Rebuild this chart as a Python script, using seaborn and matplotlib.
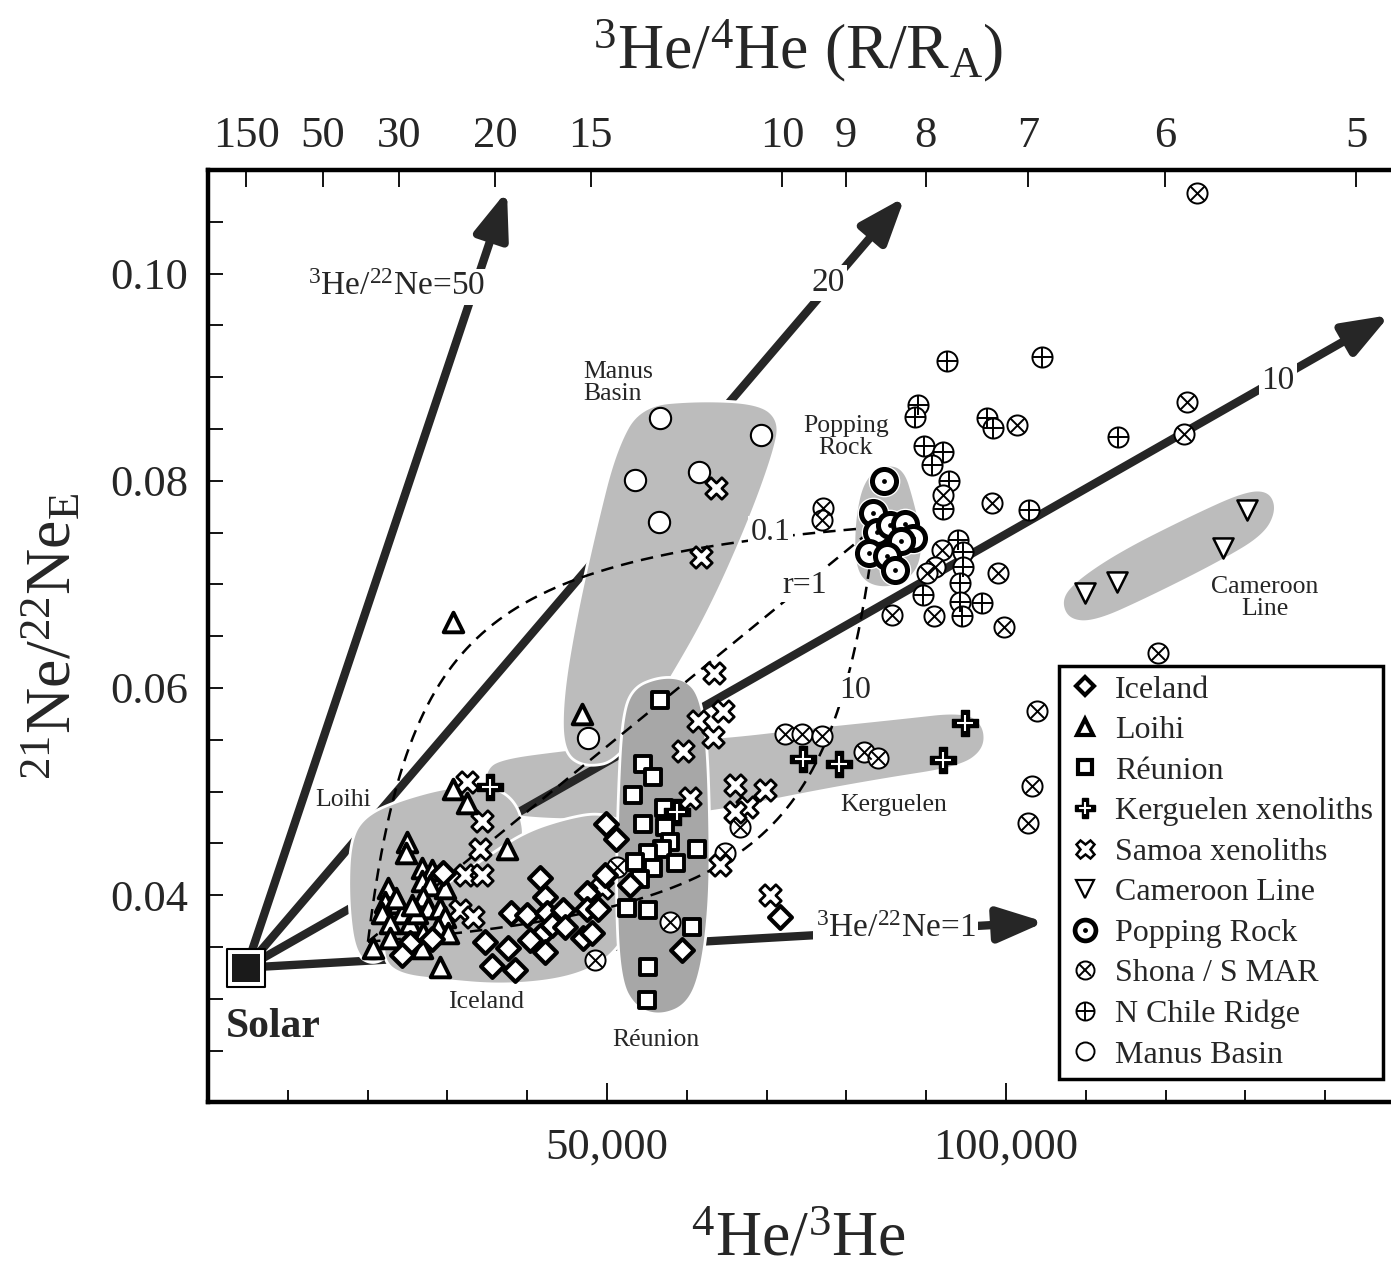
import numpy as np
import matplotlib
matplotlib.use("Agg")
import matplotlib.pyplot as plt
import seaborn as sns
from matplotlib.lines import Line2D
from matplotlib.legend_handler import HandlerTuple
from matplotlib.ticker import FixedLocator

sns.set_theme(style="ticks")
plt.rcParams["font.family"] = ["Liberation Serif", "DejaVu Serif"]
plt.rcParams["mathtext.fontset"] = "custom"
plt.rcParams["mathtext.rm"] = "Liberation Serif"
plt.rcParams["mathtext.it"] = "Liberation Serif:italic"
plt.rcParams["mathtext.bf"] = "Liberation Serif:bold"

# ---------------- data (4He/3He, 21Ne/22Ne_E) ----------------
iceland_x = [29400, 49900, 51100, 41600, 42200, 38000, 40000, 42500, 44500, 43100,
             41600, 44700, 40300, 42200, 47500, 47500, 49700, 48900, 47000, 48100,
             34700, 37600, 25300, 24300, 28100, 35600, 38500, 52900, 59400, 71700]
iceland_y = [0.0421, 0.0469, 0.0454, 0.0417, 0.0398, 0.0383, 0.0381, 0.0383, 0.0386, 0.0371,
             0.0361, 0.0369, 0.0357, 0.0345, 0.0402, 0.0387, 0.0419, 0.0387, 0.0359, 0.0363,
             0.0355, 0.0349, 0.0354, 0.0342, 0.0358, 0.0332, 0.0328, 0.0410, 0.0347, 0.0379]

loihi_x = [30700, 46900, 30700, 32500, 37500, 24900, 24800, 26800, 28100, 22600,
           22200, 23800, 21800, 24300, 22800, 25300, 22800, 20700, 26800, 27800,
           29700, 26900, 27600, 29100, 26200, 29700, 28800, 26900, 30100, 26800,
           29100, 23600, 25600]
loihi_y = [0.0664, 0.0575, 0.0502, 0.0489, 0.0445, 0.0451, 0.0441, 0.0426, 0.0424, 0.0407,
           0.0393, 0.0392, 0.0383, 0.0383, 0.0373, 0.0373, 0.0359, 0.0349, 0.0414, 0.0410,
           0.0407, 0.0398, 0.0388, 0.0388, 0.0383, 0.0379, 0.0369, 0.0363, 0.0363, 0.0349,
           0.0331, 0.0397, 0.0390]

reunion_x = [56600, 54500, 55800, 53300, 54500, 57100, 57300, 57900, 56900, 61300,
             55100, 53500, 55800, 58600, 54100, 52500, 55100, 60600, 55100, 55000]
reunion_y = [0.0588, 0.0527, 0.0514, 0.0497, 0.0469, 0.0484, 0.0466, 0.0451, 0.0445, 0.0445,
             0.0441, 0.0432, 0.0426, 0.0431, 0.0416, 0.0388, 0.0386, 0.0369, 0.0331, 0.0299]

kerg_x = [35300, 74600, 79100, 92100, 94900, 58800]
kerg_y = [0.0504, 0.0531, 0.0527, 0.0530, 0.0566, 0.0480]

samoa_x = [63700, 61800, 63400, 64500, 61400, 63300, 59500, 60400, 66000, 69800, 67500,
           66000, 64200, 70400, 32500, 34300, 34100, 32200, 34300, 31600, 33200, 49400]
samoa_y = [0.0793, 0.0726, 0.0614, 0.0578, 0.0568, 0.0553, 0.0539, 0.0494, 0.0506, 0.0501, 0.0485,
           0.0480, 0.0429, 0.0400, 0.0509, 0.0472, 0.0445, 0.0419, 0.0419, 0.0386, 0.0379, 0.0407]

cam_x = [109900, 113900, 127200, 130200]
cam_y = [0.0692, 0.0702, 0.0735, 0.0772]

pop_x = [84700, 83300, 83800, 85500, 87300, 88300, 86800, 82800, 85100, 86100]
pop_y = [0.0800, 0.0769, 0.0751, 0.0757, 0.0758, 0.0745, 0.0742, 0.0730, 0.0727, 0.0714]

shona_x = [124000, 122700, 122300, 101400, 77100, 76900, 92100, 98200, 92000, 91100,
           90100, 99000, 85700, 91000, 99700, 119000, 103900, 103200, 102700, 72300,
           74400, 76900, 82200, 84000, 66700, 64800, 51200, 57900, 48500]
shona_y = [0.1078, 0.0876, 0.0845, 0.0854, 0.0774, 0.0762, 0.0786, 0.0779, 0.0733, 0.0717,
           0.0711, 0.0711, 0.0670, 0.0669, 0.0659, 0.0634, 0.0578, 0.0505, 0.0470, 0.0556,
           0.0556, 0.0554, 0.0538, 0.0532, 0.0466, 0.0441, 0.0427, 0.0374, 0.0337]

chile_x = [92600, 104500, 89000, 88600, 97600, 98400, 89700, 92100, 90700, 92800, 92100,
           102900, 114000, 94000, 94600, 94600, 94200, 94200, 97000, 89600, 94500]
chile_y = [0.0916, 0.0919, 0.0873, 0.0862, 0.0861, 0.0851, 0.0834, 0.0828, 0.0815, 0.0800, 0.0773,
           0.0772, 0.0842, 0.0743, 0.0731, 0.0717, 0.0701, 0.0683, 0.0682, 0.0690, 0.0669]

manus_x = [56600, 69300, 53500, 61500, 56500, 47600]
manus_y = [0.0861, 0.0844, 0.0801, 0.0808, 0.0760, 0.0552]

solar_x, solar_y = 4800, 0.0330

# 3He/22Ne reference arrows from Solar
arrow_names = [r"$^{3}$He/$^{22}$Ne=50", "20", "10", r"$^{3}$He/$^{22}$Ne=1"]
arrow_tip_x = [37465, 87334, 148105, 104876]
arrow_tip_y = [0.1080, 0.1074, 0.0960, 0.0374]
arrow_lab_x = [23682, 77686, 134071, 86206]
arrow_lab_y = [0.0987, 0.0991, 0.0897, 0.0368]

# mixing hyperbolae between end-members, r = (3He/22Ne)_A / (3He/22Ne)_B
mix_r = [0.1, 1, 10]
mix_names = ["0.1", "r=1", "10"]
mix_lab_x = [70544, 74804, 81069]
mix_lab_y = [0.0750, 0.0699, 0.0598]
mixA_x, mixA_y = 83575, 0.0755
mixB_x, mixB_y = 20048, 0.0355

# region outlines
manus_poly_x = [54130, 61648, 69166, 71672, 71045, 67913, 62901, 57889, 51624, 47238, 44482, 44356, 45985, 48491, 50997]
manus_poly_y = [0.0873, 0.0878, 0.0875, 0.0858, 0.0829, 0.0762, 0.0675, 0.0607, 0.0530, 0.0523, 0.0538, 0.0588, 0.0665, 0.0752, 0.0829]
kerg_poly_x = [34708, 36588, 44106, 54130, 64154, 75431, 86708, 94852, 97358, 97358, 94226, 84202, 74178, 63527, 54130, 44106, 36588, 34708]
kerg_poly_y = [0.0521, 0.0532, 0.0540, 0.0548, 0.0552, 0.0562, 0.0571, 0.0578, 0.0564, 0.0540, 0.0523, 0.0511, 0.0497, 0.0480, 0.0474, 0.0472, 0.0477, 0.0497]
loihi_poly_x = [17793, 19672, 24058, 30323, 35335, 38467, 39720, 39094, 32829, 26564, 23431, 20925, 18419, 17542]
loihi_poly_y = [0.0453, 0.0477, 0.0492, 0.0505, 0.0506, 0.0492, 0.0463, 0.0443, 0.0414, 0.0381, 0.0347, 0.0332, 0.0342, 0.0395]
iceland_poly_x = [22178, 26564, 30949, 35335, 39720, 44732, 49118, 52250, 54130, 54130, 52250, 49118, 44106, 36588, 29070, 24058, 21927]
iceland_poly_y = [0.0366, 0.0395, 0.0416, 0.0439, 0.0461, 0.0474, 0.0480, 0.0470, 0.0443, 0.0395, 0.0357, 0.0332, 0.0318, 0.0313, 0.0318, 0.0323, 0.0337]
reunion_poly_x = [56636, 59768, 61648, 62525, 62901, 62901, 61898, 60144, 56636, 53503, 51624, 51122, 51373, 51874, 53127]
reunion_poly_y = [0.0611, 0.0609, 0.0593, 0.0550, 0.0472, 0.0395, 0.0328, 0.0294, 0.0283, 0.0291, 0.0318, 0.0395, 0.0492, 0.0569, 0.0600]
pop_poly_x = [84828, 87334, 88587, 89714, 89088, 86081, 82699, 80944, 80944, 82072]
pop_poly_y = [0.0817, 0.0812, 0.0781, 0.0743, 0.0712, 0.0696, 0.0698, 0.0716, 0.0762, 0.0802]
cam_poly_x = [106756, 108635, 114274, 123045, 129936, 133069, 134071, 132442, 126804, 118033, 111141, 107758]
cam_poly_y = [0.0685, 0.0704, 0.0733, 0.0767, 0.0791, 0.0791, 0.0772, 0.0747, 0.0721, 0.0687, 0.0663, 0.0665]

# axis ticks
bottom_major = [50000, 100000]
bottom_major_labels = ["50,000", "100,000"]
bottom_minor = list(range(10000, 150000, 10000))
left_major = [0.04, 0.06, 0.08, 0.10]
left_major_labels = ["0.04", "0.06", "0.08", "0.10"]
top_RRa = [150, 50, 30, 20, 15, 10, 9, 8, 7, 6, 5]
Ra = 1.39e-6

# ---------------- figure ----------------
fig = plt.figure(figsize=(13.91, 12.78), dpi=100)
ax = fig.add_axes([208 / 1391, 1 - 1102.3 / 1278, 1181 / 1391, (1102.3 - 170) / 1278])
ax.set_xlim(0, 148000)
ax.set_ylim(0.02, 0.11)

LIGHT = "#bcbcbc"
DARK = "#a7a7a7"
ARROW = "#262626"


def smooth_closed(xs, ys, n=4):
    pts = np.column_stack([xs, ys]).astype(float)
    for _ in range(n):
        q = np.roll(pts, -1, axis=0)
        a = 0.75 * pts + 0.25 * q
        b = 0.25 * pts + 0.75 * q
        new = np.empty((2 * len(pts), 2))
        new[0::2] = a
        new[1::2] = b
        pts = new
    return pts[:, 0], pts[:, 1]


def blob(xs, ys, color, z):
    sx, sy = smooth_closed(xs, ys)
    ax.fill(sx, sy, facecolor=color, edgecolor="white", linewidth=2.0, zorder=z)


blob(kerg_poly_x, kerg_poly_y, LIGHT, 1.0)

for tx, ty in zip(arrow_tip_x, arrow_tip_y):
    ax.annotate("", xy=(tx, ty), xytext=(solar_x, solar_y),
                arrowprops=dict(arrowstyle="-|>,head_length=0.8,head_width=0.3",
                                color=ARROW, lw=6, shrinkA=0, shrinkB=0,
                                mutation_scale=35),
                zorder=1.5, annotation_clip=False)

blob(manus_poly_x, manus_poly_y, LIGHT, 2.0)
blob(loihi_poly_x, loihi_poly_y, LIGHT, 2.1)
blob(iceland_poly_x, iceland_poly_y, LIGHT, 2.2)
blob(reunion_poly_x, reunion_poly_y, DARK, 2.3)
blob(pop_poly_x, pop_poly_y, LIGHT, 2.4)
blob(cam_poly_x, cam_poly_y, LIGHT, 2.4)

# mixing curves
w = np.linspace(0, 1, 400)
for r in mix_r:
    w3 = r * w / (r * w + 1 - w)
    xs = mixB_x + w3 * (mixA_x - mixB_x)
    ys = mixB_y + w * (mixA_y - mixB_y)
    ax.plot(xs, ys, ls=(0, (5, 3.2)), color="black", lw=1.8, zorder=3)

# ---------------- points ----------------
Z = 5
sns.scatterplot(x=manus_x, y=manus_y, marker="o", s=235, color="white",
                edgecolor="black", linewidth=1.5, zorder=Z, ax=ax)
sns.scatterplot(x=chile_x, y=chile_y, marker="o", s=210, color="white",
                edgecolor="black", linewidth=1.4, zorder=Z, ax=ax)
sns.scatterplot(x=chile_x, y=chile_y, marker="+", s=210, color="black",
                linewidth=1.4, zorder=Z, ax=ax)
sns.scatterplot(x=shona_x, y=shona_y, marker="o", s=210, color="white",
                edgecolor="black", linewidth=1.4, zorder=Z, ax=ax)
sns.scatterplot(x=shona_x, y=shona_y, marker="x", s=105, color="black",
                linewidth=1.4, zorder=Z, ax=ax)
sns.scatterplot(x=cam_x, y=cam_y, marker="v", s=210, color="white",
                edgecolor="black", linewidth=1.8, zorder=Z, ax=ax)
sns.scatterplot(x=samoa_x, y=samoa_y, marker="X", s=240, color="white",
                edgecolor="black", linewidth=2.0, zorder=Z, ax=ax)
sns.scatterplot(x=reunion_x, y=reunion_y, marker="s", s=120, color="white",
                edgecolor="black", linewidth=2.8, zorder=Z, ax=ax)
sns.scatterplot(x=loihi_x, y=loihi_y, marker="^", s=200, color="white",
                edgecolor="black", linewidth=2.8, zorder=Z, ax=ax)
sns.scatterplot(x=iceland_x, y=iceland_y, marker="D", s=135, color="white",
                edgecolor="black", linewidth=3.0, zorder=Z, ax=ax)
sns.scatterplot(x=kerg_x, y=kerg_y, marker="P", s=340, color="black",
                edgecolor="black", linewidth=1.0, zorder=Z + 0.1, ax=ax)
sns.scatterplot(x=kerg_x, y=kerg_y, marker="+", s=120, color="white",
                linewidth=1.5, zorder=Z + 0.2, ax=ax)
sns.scatterplot(x=pop_x, y=pop_y, marker="o", s=520, color="white",
                edgecolor="white", linewidth=0, zorder=Z, ax=ax)
sns.scatterplot(x=pop_x, y=pop_y, marker="o", s=300, color="white",
                edgecolor="black", linewidth=3.6, zorder=Z + 0.1, ax=ax)
sns.scatterplot(x=pop_x, y=pop_y, marker="o", s=12, color="black",
                edgecolor="black", linewidth=0, zorder=Z + 0.2, ax=ax)

# Solar
sns.scatterplot(x=[solar_x], y=[solar_y], marker="s", s=28 ** 2, color="white",
                edgecolor="black", linewidth=1.5, zorder=7, ax=ax)
sns.scatterplot(x=[solar_x], y=[solar_y], marker="s", s=20 ** 2, color="#1a1a1a",
                edgecolor="#1a1a1a", linewidth=0, zorder=7.1, ax=ax)
ax.text(8145, 0.0273, "Solar", fontsize=30, fontweight="bold", ha="center",
        va="center", zorder=8)

# arrow labels and curve labels
wb = dict(boxstyle="square,pad=0.08", fc="white", ec="none")
for name, lx, ly in zip(arrow_names, arrow_lab_x, arrow_lab_y):
    ax.text(lx, ly, name, fontsize=24, ha="center", va="center", bbox=wb, zorder=6)
for name, lx, ly in zip(mix_names, mix_lab_x, mix_lab_y):
    ax.text(lx, ly, name, fontsize=23, ha="center", va="center", bbox=wb, zorder=4)

# region labels
reg = dict(fontsize=18.5, zorder=6, va="center")
ax.text(46988, 0.0894, "Manus\nBasin", ha="left", linespacing=1.0, **reg)
ax.text(79941, 0.0842, "Popping\nRock", ha="center", multialignment="center", linespacing=1.0, **reg)
ax.text(132442, 0.0687, "Cameroon\nLine", ha="center", multialignment="center", linespacing=1.0, **reg)
ax.text(85956, 0.0487, "Kerguelen", ha="center", **reg)
ax.text(56134, 0.0260, "Réunion", ha="center", **reg)
ax.text(34833, 0.0297, "Iceland", ha="center", **reg)
ax.text(16916, 0.0492, "Loihi", ha="center", **reg)

# ---------------- axes styling ----------------
for side in ["top", "left", "bottom"]:
    ax.spines[side].set_linewidth(3.2)
    ax.spines[side].set_color("black")
ax.spines["right"].set_visible(False)

ax.xaxis.set_major_locator(FixedLocator(bottom_major))
ax.set_xticklabels(bottom_major_labels)
ax.xaxis.set_minor_locator(FixedLocator(bottom_minor))
ax.yaxis.set_major_locator(FixedLocator(left_major))
ax.set_yticklabels(left_major_labels)
ax.yaxis.set_minor_locator(FixedLocator(list(np.arange(0.025, 0.1051, 0.005))))
ax.tick_params(axis="x", which="major", direction="in", length=14, width=1.3,
               labelsize=32, pad=18, top=False, color="black")
ax.tick_params(axis="x", which="minor", direction="in", length=9, width=1.3,
               top=False, color="black")
ax.tick_params(axis="y", which="both", direction="in", length=11, width=1.3,
               labelsize=32, pad=14, right=False, color="black")

ax2 = ax.twiny()
ax2.set_xlim(ax.get_xlim())
top_pos = 1.0 / (np.array(top_RRa, dtype=float) * Ra)
ax2.set_xticks(top_pos)
ax2.set_xticklabels([str(v) for v in top_RRa])
ax2.xaxis.set_minor_locator(FixedLocator([]))
ax2.tick_params(axis="x", direction="in", length=12, width=1.3, labelsize=32, pad=10,
                color="black")
for s in ax2.spines.values():
    s.set_visible(False)

ax.set_xlabel(r"$^{4}$He/$^{3}$He", fontsize=46, labelpad=32)
ax2.set_xlabel(r"$^{3}$He/$^{4}$He (R/R$_{\mathrm{A}}$)", fontsize=46, labelpad=34)
ax.set_ylabel(r"$^{21}$Ne/$^{22}$Ne$_{\mathrm{E}}$", fontsize=46, labelpad=18)

# ---------------- legend ----------------
def mk(marker, ms, mfc="white", mec="black", mew=1.4):
    return Line2D([], [], ls="none", marker=marker, ms=ms, mfc=mfc, mec=mec, mew=mew)


handles = [
    mk("D", 9, mew=3),
    mk("^", 11, mew=3),
    mk("s", 10, mew=3),
    (mk("P", 15, mfc="black", mec="black", mew=1), mk("+", 9, mec="white", mew=1.5)),
    mk("X", 13, mew=1.8),
    mk("v", 13, mew=1.6),
    (mk("o", 15, mew=3.4), mk("o", 3.5, mfc="black", mec="black", mew=0)),
    (mk("o", 13, mew=1.4), mk("x", 9, mew=1.4)),
    (mk("o", 13, mew=1.4), mk("+", 13, mew=1.4)),
    mk("o", 13, mew=1.4),
]
labels = ["Iceland", "Loihi", "Réunion", "Kerguelen xenoliths", "Samoa xenoliths",
          "Cameroon Line", "Popping Rock", "Shona / S MAR", "N Chile Ridge", "Manus Basin"]
leg = ax.legend(handles, labels, loc="upper left", bbox_to_anchor=(0.7206, 0.4684),
                borderaxespad=0, frameon=True, fancybox=False, edgecolor="black",
                framealpha=1, fontsize=23, handlelength=1.0, handletextpad=0.45,
                labelspacing=0.35, borderpad=0.3,
                handler_map={tuple: HandlerTuple(ndivide=1)})
leg.get_frame().set_linewidth(2.5)
leg.set_zorder(10)

fig.savefig("out.png", dpi=100)
